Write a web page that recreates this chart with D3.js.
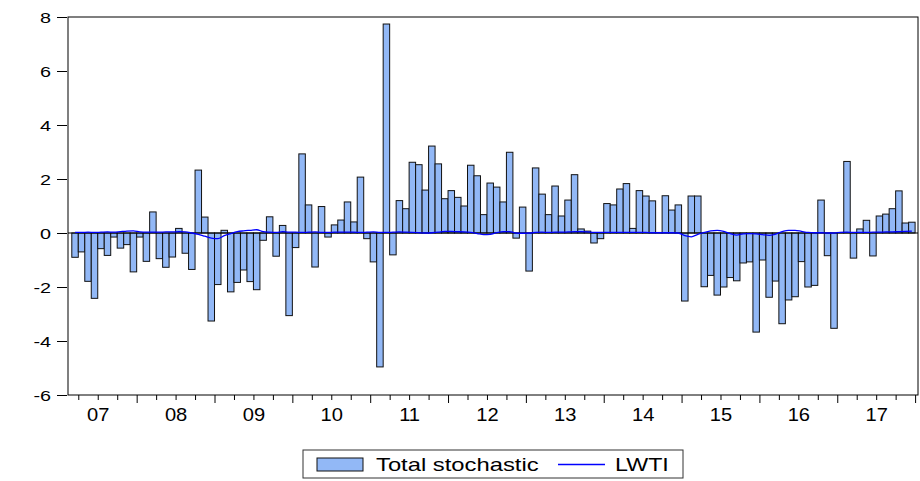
<!DOCTYPE html>
<html>
<head>
<meta charset="utf-8">
<script src="https://cdn.jsdelivr.net/npm/d3@7"></script>
<style>
  body { margin: 0; background: #fff; }
  svg { display: block; font-family: Arial, "Liberation Sans", sans-serif; }
</style>
</head>
<body>
<svg width="920" height="481"></svg>
<script>
// monthly observations, 2007M03 .. 2017M12
const startYear = 2007, startMonth = 3;

const totalStochastic = [
  -0.90, -0.70, -1.79, -2.42, -0.58, -0.83, -0.15, -0.56, -0.43, -1.44,
  -0.15, -1.05, 0.78, -0.95, -1.27, -0.89, 0.17, -0.75, -1.35, 2.33,
  0.59, -3.26, -1.91, 0.10, -2.18, -1.83, -1.37, -1.80, -2.10, -0.27,
  0.60, -0.86, 0.28, -3.06, -0.54, 2.93, 1.04, -1.26, 0.98, -0.15,
  0.30, 0.48, 1.15, 0.41, 2.07, -0.21, -1.07, -4.96, 7.74, -0.81,
  1.20, 0.90, 2.62, 2.53, 1.59, 3.22, 2.56, 1.27, 1.57, 1.32,
  1.00, 2.51, 2.12, 0.68, 1.85, 1.70, 1.15, 2.99, -0.19, 0.96,
  -1.41, 2.41, 1.44, 0.68, 1.74, 0.63, 1.22, 2.16, 0.15, 0.07,
  -0.37, -0.21, 1.09, 1.04, 1.63, 1.83, 0.17, 1.57, 1.37, 1.19,
  0.02, 1.38, 0.85, 1.04, -2.52, 1.37, 1.37, -1.99, -1.57, -2.30,
  -2.00, -1.65, -1.77, -1.11, -1.07, -3.67, -1.00, -2.38, -1.78, -3.36,
  -2.48, -2.36, -1.06, -2.00, -1.94, 1.22, -0.84, -3.53, 0.02, 2.65,
  -0.93, 0.15, 0.47, -0.85, 0.63, 0.70, 0.90, 1.56, 0.37, 0.40
];

const lwti = [
  0.02, 0.02, 0.03, 0.02, 0.03, 0.04, 0.03, 0.05, 0.07, 0.08,
  0.04, 0.03, 0.03, 0.03, 0.04, 0.04, 0.05, 0.04, 0.00, -0.05,
  -0.12, -0.19, -0.21, -0.10, -0.02, 0.05, 0.08, 0.10, 0.12, 0.05,
  0.03, 0.02, 0.05, 0.03, 0.03, 0.02, 0.03, 0.04, 0.02, 0.02,
  0.03, 0.03, 0.03, 0.03, 0.02, 0.03, 0.04, 0.02, 0.02, 0.03,
  0.04, 0.03, 0.02, 0.01, 0.00, 0.01, 0.03, 0.06, 0.06, 0.05,
  0.04, 0.02, -0.02, -0.06, -0.05, 0.01, 0.05, 0.05, 0.00, -0.01,
  0.00, 0.02, 0.03, 0.02, 0.03, 0.03, 0.04, 0.05, 0.05, 0.04,
  0.02, 0.02, 0.02, 0.02, 0.02, 0.02, 0.02, 0.02, 0.02, 0.01,
  0.01, 0.01, 0.01, 0.00, -0.10, -0.14, -0.05, 0.02, 0.08, 0.10,
  0.06, -0.02, -0.08, -0.03, -0.02, -0.03, -0.06, -0.09, -0.04, 0.05,
  0.10, 0.10, 0.06, 0.02, 0.01, 0.01, 0.00, 0.00, 0.02, 0.03,
  0.02, 0.02, 0.02, 0.03, 0.03, 0.04, 0.04, 0.05, 0.06, 0.07
];

const yearLabels = ["07", "08", "09", "10", "11", "12", "13", "14", "15", "16", "17"];
const yTicks = [-6, -4, -2, 0, 2, 4, 6, 8];
const legendNames = ["Total stochastic", "LWTI"];

const months = totalStochastic.map((d, i) => {
  const m = startMonth - 1 + i;
  return { year: startYear + Math.floor(m / 12), month: m % 12 + 1 };
});

const svg = d3.select("svg");
const plotLeft = 68, plotRight = 918, plotTop = 17, plotBottom = 395;
const stretch = 1.32;

// index -> pixel (edge of month slot)
const xPos = d3.scaleLinear().domain([0, months.length]).range([71.8, 915.1]);
const y = d3.scaleLinear().domain([-6, 8]).range([plotBottom, plotTop]);

// bars
svg.append("g").selectAll("rect")
  .data(totalStochastic)
  .join("rect")
  .attr("x", (d, i) => xPos(i))
  .attr("width", (d, i) => xPos(i + 1) - xPos(i))
  .attr("y", d => y(Math.max(0, d)))
  .attr("height", d => Math.abs(y(d) - y(0)))
  .attr("fill", "#92b8f6")
  .attr("stroke", "#111")
  .attr("stroke-width", 1);

// zero line
svg.append("line")
  .attr("x1", plotLeft).attr("x2", plotRight)
  .attr("y1", y(0)).attr("y2", y(0))
  .attr("stroke", "#000").attr("stroke-width", 1);

// LWTI line
const line = d3.line()
  .curve(d3.curveMonotoneX)
  .x((d, i) => xPos(i + 0.5))
  .y(d => y(d));
svg.append("path")
  .attr("d", line(lwti))
  .attr("fill", "none")
  .attr("stroke", "#0000ff")
  .attr("stroke-width", 1.3);

// frame
svg.append("rect")
  .attr("x", plotLeft).attr("y", plotTop)
  .attr("width", plotRight - plotLeft).attr("height", plotBottom - plotTop)
  .attr("fill", "none").attr("stroke", "#000").attr("stroke-width", 1);

// y axis (plain hyphen minus like the original)
const yAxisG = svg.append("g").attr("transform", `translate(${plotLeft},0)`);
yAxisG.call(d3.axisLeft(y).tickValues(yTicks).tickSize(10).tickFormat(d => String(d)));
yAxisG.select(".domain").remove();
yAxisG.selectAll(".tick line").attr("x2", -11).attr("x1", -1).attr("stroke", "#000");
yAxisG.selectAll(".tick text")
  .attr("x", 0).attr("dy", null).attr("y", 0)
  .attr("transform", `translate(-17,5.5) scale(${stretch},1)`)
  .attr("font-size", "15px").attr("fill", "#000")
  .attr("font-family", "Arial, 'Liberation Sans', sans-serif");

// x axis: quarter boundary ticks, year labels at July
const tickIdx = [];
for (let i = 1; i <= months.length; i++) {
  const mm = (startMonth - 1 + i) % 12;
  if (mm % 3 === 0) tickIdx.push(i);
}
const labelAt = i => {
  const m = startMonth - 1 + i;
  if (m % 12 !== 6) return "";
  return yearLabels[Math.floor(m / 12) + startYear - 2007] || "";
};
const xAxisG = svg.append("g").attr("transform", `translate(0,${plotBottom})`);
xAxisG.call(d3.axisBottom(xPos).tickValues(tickIdx).tickSize(5).tickFormat(labelAt));
xAxisG.select(".domain").remove();
xAxisG.selectAll(".tick line")
  .attr("stroke", "#000")
  .attr("y2", d => ((startMonth - 1 + d) % 12 === 0 ? 8 : 5));
xAxisG.selectAll(".tick text")
  .attr("y", 0).attr("dy", null)
  .attr("transform", `translate(0,26) scale(1.15,1)`)
  .attr("font-size", "17.5px").attr("fill", "#000")
  .attr("font-family", "Arial, 'Liberation Sans', sans-serif");

// legend
const lg = svg.append("g");
lg.append("rect")
  .attr("x", 303).attr("y", 450).attr("width", 380).attr("height", 28)
  .attr("fill", "#fff").attr("stroke", "#333").attr("stroke-width", 1);
lg.append("rect")
  .attr("x", 317).attr("y", 458).attr("width", 46).attr("height", 13)
  .attr("fill", "#92b8f6").attr("stroke", "#111");
lg.append("text")
  .attr("transform", `translate(376,471) scale(1.36,1)`)
  .attr("font-size", "17.5px").attr("fill", "#000")
  .text(legendNames[0]);
lg.append("line")
  .attr("x1", 558).attr("x2", 605).attr("y1", 464.5).attr("y2", 464.5)
  .attr("stroke", "#0000ff").attr("stroke-width", 1.3);
lg.append("text")
  .attr("transform", `translate(615,471) scale(1.33,1)`)
  .attr("font-size", "17.5px").attr("fill", "#000")
  .text(legendNames[1]);
</script>
</body>
</html>
